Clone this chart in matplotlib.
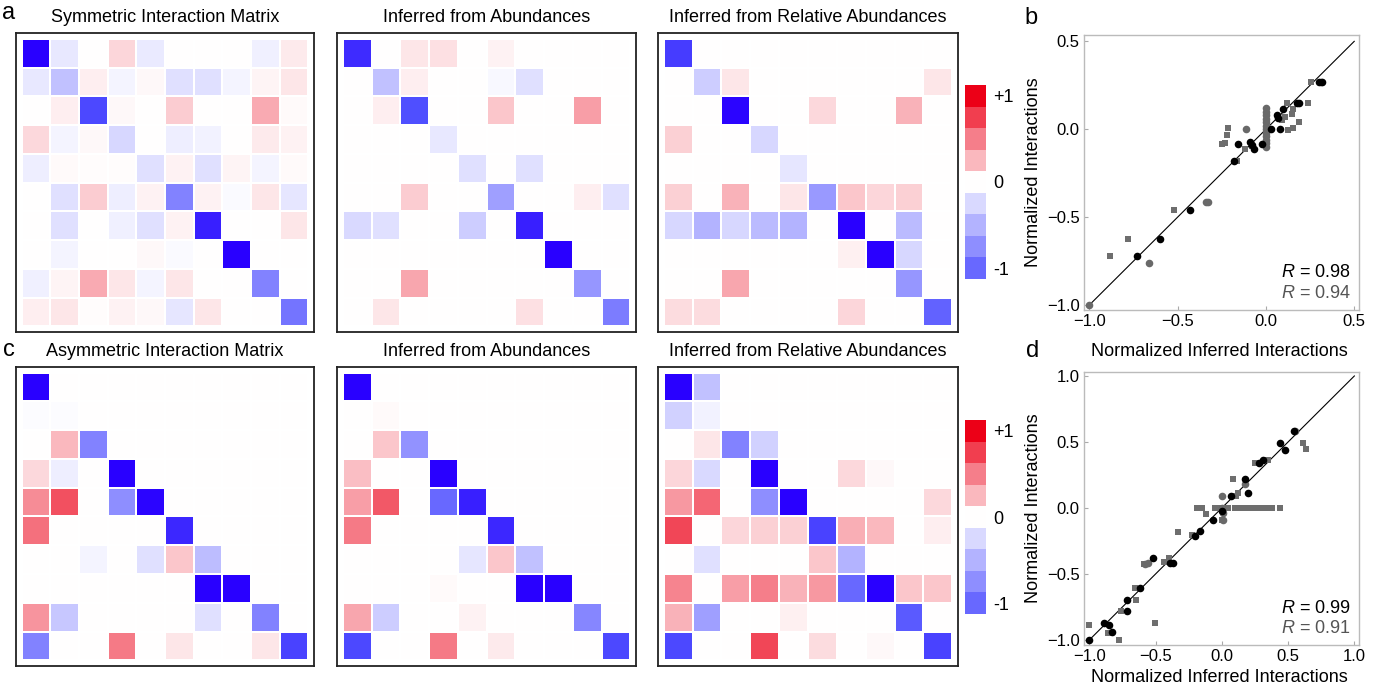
import numpy as np
import matplotlib
matplotlib.use("Agg")
import matplotlib.pyplot as plt
from matplotlib.colors import LinearSegmentedColormap

plt.rcParams['font.family'] = ['Liberation Sans', 'DejaVu Sans']

# ---- interaction matrices (rows top to bottom) ----
sym_true = [
    [-1.00, -0.09, 0.00, 0.16, -0.08, 0.00, 0.00, 0.00, -0.06, 0.08],
    [-0.09, -0.25, 0.07, -0.04, 0.03, -0.12, -0.12, -0.04, 0.04, 0.10],
    [0.00, 0.07, -0.72, 0.03, 0.00, 0.20, 0.00, 0.00, 0.33, 0.02],
    [0.15, -0.04, 0.03, -0.16, 0.00, -0.07, -0.05, 0.00, 0.08, 0.05],
    [-0.07, 0.02, 0.01, 0.01, -0.12, 0.05, -0.12, 0.04, -0.04, 0.02],
    [0.00, -0.12, 0.20, -0.07, 0.05, -0.50, 0.05, -0.02, 0.10, -0.10],
    [0.00, -0.12, 0.00, -0.06, -0.12, 0.05, -0.88, 0.00, 0.00, 0.10],
    [0.00, -0.04, 0.00, 0.00, 0.03, -0.02, 0.00, -1.00, 0.00, 0.00],
    [-0.06, 0.04, 0.33, 0.10, -0.04, 0.10, 0.00, 0.00, -0.50, 0.00],
    [0.07, 0.10, 0.01, 0.05, 0.03, -0.10, 0.10, 0.00, 0.00, -0.55],
]
sym_abund = [
    [-0.83, 0.00, 0.10, 0.12, 0.00, 0.05, 0.00, 0.00, 0.00, 0.00],
    [0.00, -0.25, 0.07, 0.00, 0.00, -0.03, -0.12, 0.00, 0.00, 0.00],
    [0.00, 0.07, -0.70, 0.00, 0.00, 0.22, 0.00, 0.00, 0.38, 0.00],
    [0.00, 0.00, 0.00, -0.09, 0.00, 0.00, 0.00, 0.00, 0.00, 0.00],
    [0.00, 0.00, 0.00, 0.00, -0.12, 0.00, -0.12, 0.00, 0.00, 0.00],
    [0.00, 0.00, 0.20, 0.00, 0.00, -0.38, 0.00, 0.00, 0.07, -0.12],
    [-0.15, -0.12, 0.00, 0.00, -0.20, 0.00, -0.88, 0.00, 0.00, 0.00],
    [0.00, 0.00, 0.00, 0.00, 0.00, 0.00, 0.00, -1.00, 0.00, 0.00],
    [0.00, 0.00, 0.35, 0.00, 0.00, 0.00, 0.00, 0.00, -0.42, 0.00],
    [0.00, 0.10, 0.00, 0.00, 0.00, 0.00, 0.12, 0.00, 0.00, -0.52],
]
sym_rel = [
    [-0.77, 0.00, 0.00, 0.00, 0.00, 0.00, 0.00, 0.00, 0.00, 0.00],
    [0.00, -0.20, 0.10, 0.00, 0.00, 0.00, 0.00, 0.00, 0.00, 0.10],
    [0.00, 0.00, -0.98, 0.00, 0.00, 0.15, 0.00, 0.00, 0.30, 0.00],
    [0.18, 0.00, 0.00, -0.16, 0.00, 0.00, 0.00, 0.00, 0.00, 0.00],
    [0.00, 0.00, 0.00, 0.00, -0.10, 0.00, 0.00, 0.00, 0.00, 0.00],
    [0.18, 0.00, 0.30, 0.00, 0.10, -0.40, 0.22, 0.16, 0.18, 0.00],
    [-0.16, -0.30, -0.16, -0.27, -0.30, 0.00, -1.00, 0.00, -0.27, 0.00],
    [0.00, 0.00, 0.00, 0.00, 0.00, 0.00, 0.06, -1.00, -0.16, 0.00],
    [0.00, 0.00, 0.35, 0.00, 0.00, 0.00, 0.00, 0.00, -0.42, 0.00],
    [0.14, 0.14, 0.00, 0.00, 0.00, 0.00, 0.16, 0.00, 0.00, -0.62],
]
asym_true = [
    [-1.00, 0.00, 0.00, 0.00, 0.00, 0.00, 0.00, 0.00, 0.00, 0.00],
    [-0.01, -0.01, 0.00, 0.00, 0.00, 0.00, 0.00, 0.00, 0.00, 0.00],
    [0.00, 0.28, -0.50, 0.00, 0.00, 0.00, 0.00, 0.00, 0.00, 0.00],
    [0.15, -0.07, 0.00, -1.00, 0.00, 0.00, 0.00, 0.00, 0.00, 0.00],
    [0.45, 0.68, 0.00, -0.45, -0.98, 0.00, 0.00, 0.00, 0.00, 0.00],
    [0.56, 0.00, 0.00, 0.00, 0.00, -0.85, 0.00, 0.00, 0.00, 0.00],
    [0.00, 0.00, -0.04, 0.00, -0.12, 0.22, -0.26, 0.00, 0.00, 0.00],
    [0.00, 0.00, 0.00, 0.00, 0.00, 0.00, -1.00, -1.00, 0.00, 0.00],
    [0.42, -0.22, 0.00, 0.00, 0.00, 0.00, -0.12, 0.00, -0.50, 0.00],
    [-0.50, 0.00, 0.00, 0.52, 0.00, 0.10, 0.00, 0.00, 0.10, -0.75],
]
asym_abund = [
    [-1.00, 0.00, 0.00, 0.00, 0.00, 0.00, 0.00, 0.00, 0.00, 0.00],
    [0.00, 0.02, 0.00, 0.00, 0.00, 0.00, 0.00, 0.00, 0.00, 0.00],
    [0.00, 0.22, -0.43, 0.00, 0.00, 0.00, 0.00, 0.00, 0.00, 0.00],
    [0.25, 0.00, 0.00, -1.00, 0.00, 0.00, 0.00, 0.00, 0.00, 0.00],
    [0.38, 0.65, 0.00, -0.60, -0.88, 0.00, 0.00, 0.00, 0.00, 0.00],
    [0.52, 0.00, 0.00, 0.00, 0.00, -0.85, 0.00, 0.00, 0.00, 0.00],
    [0.00, 0.00, 0.00, 0.00, -0.10, 0.22, -0.25, 0.00, 0.00, 0.00],
    [0.00, 0.00, 0.00, 0.02, 0.00, 0.00, -1.00, -1.00, 0.00, 0.00],
    [0.35, -0.20, 0.00, 0.00, 0.05, 0.00, 0.00, 0.00, -0.48, 0.00],
    [-0.72, 0.00, 0.00, 0.52, 0.00, 0.08, 0.00, 0.00, 0.00, -0.72],
]
asym_rel = [
    [-1.00, -0.25, 0.00, 0.00, 0.00, 0.00, 0.00, 0.00, 0.00, 0.00],
    [-0.18, -0.05, 0.00, 0.00, 0.00, 0.00, 0.00, 0.00, 0.00, 0.00],
    [0.00, 0.10, -0.50, -0.18, 0.00, 0.00, 0.00, 0.00, 0.00, 0.00],
    [0.16, -0.15, 0.00, -1.00, 0.00, 0.00, 0.15, 0.03, 0.00, 0.00],
    [0.40, 0.60, 0.00, -0.45, -1.00, 0.00, 0.00, 0.00, 0.00, 0.15],
    [0.72, 0.00, 0.16, 0.18, 0.18, -0.75, 0.32, 0.28, 0.00, 0.07],
    [0.00, -0.12, 0.00, 0.00, 0.00, 0.22, -0.30, 0.00, 0.00, 0.00],
    [0.48, 0.00, 0.38, 0.50, 0.30, 0.40, -0.60, -1.00, 0.22, 0.22],
    [0.30, -0.38, 0.00, 0.00, 0.06, 0.00, 0.00, 0.00, -0.65, 0.00],
    [-0.72, 0.00, 0.00, 0.72, 0.00, 0.14, 0.00, 0.03, 0.00, -0.75],
]
top_titles = ["Symmetric Interaction Matrix", "Inferred from Abundances",
              "Inferred from Relative Abundances"]
bottom_titles = ["Asymmetric Interaction Matrix", "Inferred from Abundances",
                 "Inferred from Relative Abundances"]

# colour key blocks, top to bottom (middle one is the blank "0" slot)
cbar_levels = [1.0, 0.75, 0.5, 0.28, 0.0, -0.15, -0.3, -0.45, -0.6]
cbar_ticks = ["+1", "0", "-1"]

# ---- scatter b (symmetric) ----
b_black_x = [-0.73, -0.60, -0.43, -0.183, -0.157, -0.09, -0.08, -0.07, -0.024,
             0.028, 0.06, 0.07, 0.079, 0.098, 0.174, 0.185, 0.30, 0.315]
b_black_y = [-0.72, -0.627, -0.46, -0.18, -0.084, -0.07, -0.09, -0.11, -0.084,
             0.0, 0.08, 0.062, 0.0, 0.115, 0.151, 0.151, 0.267, 0.267]
b_gcirc_x = [-1.0, -0.662, -0.34, -0.33, -0.115, 0.31,
             0.0, 0.0, 0.0, 0.0, 0.0, 0.0, 0.0, 0.0, 0.0, 0.0, 0.0, 0.0]
b_gcirc_y = [-1.0, -0.759, -0.416, -0.416, 0.0, 0.267,
             0.12, 0.10, 0.08, 0.06, 0.04, 0.02, 0.0, -0.02, -0.04, -0.06, -0.08, -0.10]
b_sq_x = [-0.883, -0.783, -0.519, -0.25, -0.232, -0.222, -0.213, -0.165, -0.119,
          -0.08, 0.089, 0.108, 0.117, 0.126, 0.146, 0.155, 0.155, 0.185, 0.238, 0.255]
b_sq_y = [-0.721, -0.627, -0.46, -0.084, -0.08, -0.033, 0.005, -0.18, -0.113,
          -0.095, 0.052, 0.071, 0.152, -0.005, 0.088, 0.115, 0.005, 0.039, 0.152, 0.267]
b_r = ["0.98", "0.94"]

# ---- scatter d (asymmetric) ----
d_black_x = [-1.0, -0.887, -0.849, -0.829, -0.718, -0.718, -0.618, -0.517, -0.39,
             -0.366, -0.203, -0.165, -0.069, 0.004, 0.067, 0.177, 0.20, 0.283,
             0.308, 0.442, 0.477, 0.545]
d_black_y = [-1.0, -0.874, -0.886, -0.937, -0.697, -0.778, -0.609, -0.376, -0.414,
             -0.414, -0.212, -0.174, -0.091, -0.02, 0.091, 0.222, 0.114, 0.343,
             0.364, 0.49, 0.44, 0.586]
d_gcirc_x = [0.553, -0.001, 0.177, -0.58, -0.555, 0.006, 0.006, 0.0]
d_gcirc_y = [0.586, 0.091, 0.18, -0.424, -0.414, -0.04, -0.09, 0.0]
d_sq_x = [-1.0, -0.857, -0.774, -0.761, -0.645, -0.655, -0.504, -0.44, -0.40,
          -0.59, -0.328, -0.228, -0.122, 0.087, 0.124, 0.11, 0.25, 0.35, 0.615,
          0.633, 0.0,
          -0.19, -0.15, -0.05, -0.03, -0.01, 0.01, 0.03, 0.05,
          0.10, 0.13, 0.16, 0.19, 0.22, 0.26, 0.29, 0.32, 0.35, 0.38, 0.44]
d_sq_y = [-0.886, -0.944, -1.0, -0.778, -0.697, -0.609, -0.874, -0.407, -0.376,
          -0.424, -0.18, -0.205, -0.045, 0.222, 0.11, 0.09, 0.343, 0.364, 0.49,
          0.444, -0.09,
          0.0, 0.0, 0.0, 0.0, 0.0, 0.0, 0.0, 0.0,
          0.0, 0.0, 0.0, 0.0, 0.0, 0.0, 0.0, 0.0, 0.0, 0.0, 0.0]
d_r = ["0.99", "0.91"]

W, H = 1375, 694
fig = plt.figure(figsize=(W / 100, H / 100), dpi=100)


def px_rect(x0, y0, x1, y1):
    return [x0 / W, 1 - y1 / H, (x1 - x0) / W, (y1 - y0) / H]


# blue side keeps R == G until the darkest end, then drops to pure violet-blue
cmap = LinearSegmentedColormap.from_list(
    "bwr_m", [(0.0, (0.16, 0.0, 1.0)), (0.15, (0.31, 0.31, 1.0)),
              (0.5, (1, 1, 1)), (1.0, (0.925, 0.0, 0.09))])


def heatmap(rect, mat, title):
    ax = fig.add_axes(rect)
    m = np.array(mat)
    ax.pcolormesh(np.arange(11), np.arange(11), m, cmap=cmap, vmin=-1, vmax=1,
                  edgecolors='#ffffff', linewidth=0.3)
    ax.set_xlim(-0.2, 10.2)
    ax.set_ylim(10.2, -0.2)
    ax.set_xticks([])
    ax.set_yticks([])
    for s in ax.spines.values():
        s.set_linewidth(1.3)
        s.set_color('#222222')
    ax.set_title(title, fontsize=13, pad=8)
    return ax


def color_key(rect):
    ax = fig.add_axes(rect)
    vals = np.array(cbar_levels)[:, None]
    ax.pcolormesh(np.arange(2), np.arange(len(cbar_levels) + 1), vals,
                  cmap=cmap, vmin=-1, vmax=1)
    ax.set_ylim(len(cbar_levels), 0)
    ax.set_xlim(0, 1)
    ax.set_xticks([])
    ax.yaxis.tick_right()
    ax.set_yticks([0.5, len(cbar_levels) / 2, len(cbar_levels) - 0.5])
    ax.set_yticklabels(cbar_ticks, fontsize=13)
    ax.tick_params(axis='y', length=0, pad=5)
    for s in ax.spines.values():
        s.set_visible(False)


def scatter(rect, bx, by, gx, gy, sx, sy, lim, ticks, rvals, xlabel_y):
    ax = fig.add_axes(rect)
    lo, hi = ticks[0], ticks[-1]
    ax.plot([lo, hi], [lo, hi], color='black', lw=0.8, zorder=1)
    ax.scatter(sx, sy, marker='s', s=21, color='#6e6e6e', linewidths=0, zorder=2)
    ax.scatter(gx, gy, marker='o', s=30, color='#696969', linewidths=0, zorder=3)
    ax.scatter(bx, by, marker='o', s=30, color='black', linewidths=0, zorder=4)
    ax.set_xlim(*lim[0])
    ax.set_ylim(*lim[1])
    ax.set_xticks(ticks)
    ax.set_yticks(ticks)
    labels = [f"{t:.1f}".replace("-", "\u2212") for t in ticks]
    ax.set_xticklabels(labels, fontsize=12)
    ax.set_yticklabels(labels, fontsize=12)
    ax.tick_params(direction='in', length=3, color='#aaaaaa', pad=3)
    for s in ax.spines.values():
        s.set_color('#bbbbbb')
        s.set_linewidth(1.0)
    ax.set_ylabel("Normalized Interactions", fontsize=13, labelpad=4)
    ax.text(0.97, 0.135, r"$\it{R}$ = " + rvals[0], transform=ax.transAxes,
            ha='right', va='center', fontsize=13, color='black')
    ax.text(0.97, 0.06, r"$\it{R}$ = " + rvals[1], transform=ax.transAxes,
            ha='right', va='center', fontsize=13, color='#555555')
    fig.text(1219 / W, 1 - xlabel_y / H, "Normalized Inferred Interactions",
             ha='center', va='center', fontsize=13)
    return ax


plt.rcParams['mathtext.fontset'] = 'custom'
plt.rcParams['mathtext.it'] = 'Liberation Sans:italic'

top_x = [(16, 314), (337, 636), (658, 958)]
for (x0, x1), mat, title in zip(top_x, [sym_true, sym_abund, sym_rel], top_titles):
    heatmap(px_rect(x0, 33, x1, 332), mat, title)
for (x0, x1), mat, title in zip(top_x, [asym_true, asym_abund, asym_rel], bottom_titles):
    heatmap(px_rect(x0, 367, x1, 666), mat, title)

color_key(px_rect(965, 85, 986, 279))
color_key(px_rect(965, 420, 986, 614))

scatter(px_rect(1084, 35, 1359, 310), b_black_x, b_black_y, b_gcirc_x, b_gcirc_y,
        b_sq_x, b_sq_y, [(-1.03, 0.527), (-1.028, 0.536)],
        [-1.0, -0.5, 0.0, 0.5], b_r, 352)
scatter(px_rect(1084, 372, 1359, 645), d_black_x, d_black_y, d_gcirc_x, d_gcirc_y,
        d_sq_x, d_sq_y, [(-1.04, 1.035), (-1.038, 1.03)],
        [-1.0, -0.5, 0.0, 0.5, 1.0], d_r, 678)

for lbl, x, y in [("a", 9, 13), ("b", 1031, 18), ("c", 9, 350), ("d", 1033, 351)]:
    fig.text(x / W, 1 - y / H, lbl, ha='center', va='center', fontsize=17)

fig.savefig("out.png", dpi=100)
